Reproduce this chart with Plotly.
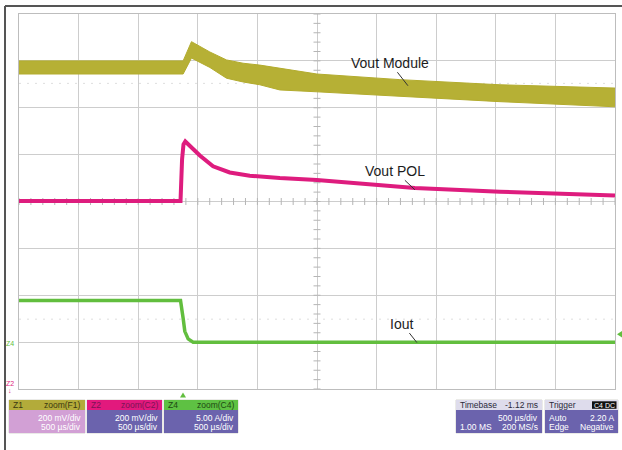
import numpy as np
import plotly.graph_objects as go

# Horizontal: time in ms (500 us/div, 10 divisions). Vertical: screen divisions (8 div, centre = 0)

# Vout Module (Z1, 200 mV/div) - ripple envelope
vmod_t = [0.000, 1.377, 1.447, 1.601, 1.741, 1.880, 2.020, 2.188, 2.499, 3.195, 4.035, 5.000]
vmod_hi = [3.00, 3.00, 3.41, 3.19, 3.02, 2.95, 2.91, 2.84, 2.72, 2.60, 2.49, 2.42]
vmod_lo = [2.72, 2.72, 3.06, 2.86, 2.63, 2.55, 2.49, 2.38, 2.34, 2.24, 2.13, 2.02]

# Vout POL (Z2, 200 mV/div)
pol_t = [0.000, 1.355, 1.368, 1.380, 1.395, 1.517, 1.628, 1.768, 1.936, 2.188, 2.499, 2.918, 3.321, 4.035, 5.000]
pol_v = [0.01, 0.01, 0.90, 1.22, 1.28, 0.98, 0.75, 0.62, 0.55, 0.50, 0.46, 0.37, 0.29, 0.21, 0.13]

# Iout (Z4, 5.00 A/div)
iout_t = [0.000, 1.355, 1.377, 1.391, 1.419, 1.461, 5.000]
iout_v = [-2.11, -2.11, -2.49, -2.77, -2.93, -3.00, -3.00]

OLIVE = "#b3ac2e"
MAGENTA = "#de1c7e"
GREEN = "#62be3e"
PURPLE = "#6b63ad"

W, H = 622, 450
ML, MR, MT, MB = 19, 7, 14, 61
PW, PH = W - ML - MR, H - MT - MB


def px(x):
    return (x - ML) / PW


def py(y):
    return (H - MB - y) / PH


fig = go.Figure()

# graticule dotted reference lines
for lvl in (2.52, -2.51):
    fig.add_trace(go.Scatter(x=[0, 5], y=[lvl, lvl], mode="lines",
                             line=dict(color="#dedede", width=1, dash="2px,6px"),
                             hoverinfo="skip", showlegend=False))

# centre-axis minor ticks
xt = np.arange(0, 5.001, 0.1)
fig.add_trace(go.Scatter(x=xt, y=np.zeros_like(xt), mode="markers",
                         marker=dict(symbol="line-ns", size=5, line=dict(color="#b5b5b5", width=1)),
                         hoverinfo="skip", showlegend=False))
yt = np.arange(-4, 4.001, 0.2)
fig.add_trace(go.Scatter(x=np.full_like(yt, 2.5), y=yt, mode="markers",
                         marker=dict(symbol="line-ew", size=5, line=dict(color="#b5b5b5", width=1)),
                         hoverinfo="skip", showlegend=False))

# Vout Module ripple band
fig.add_trace(go.Scatter(x=vmod_t, y=vmod_lo, mode="lines",
                         line=dict(color=OLIVE, width=1), showlegend=False))
fig.add_trace(go.Scatter(x=vmod_t, y=vmod_hi, mode="lines", fill="tonexty",
                         fillcolor=OLIVE,
                         fillpattern=dict(shape="|", fgcolor="#a39d20", bgcolor="#b9b338",
                                          size=2, solidity=0.3),
                         line=dict(color=OLIVE, width=1), showlegend=False))

# Vout POL
fig.add_trace(go.Scatter(x=pol_t, y=pol_v, mode="lines",
                         line=dict(color=MAGENTA, width=4), showlegend=False))

# Iout
fig.add_trace(go.Scatter(x=iout_t, y=iout_v, mode="lines",
                         line=dict(color=GREEN, width=3.5), showlegend=False))

shapes = []
annots = []

# trace labels with leader lines
lab_font = dict(family="Liberation Sans, Arial, sans-serif", size=14, color="#1c1c1c")
for text, x, y, ax, ay in [("Vout Module", 3.263, 2.47, -18, -23),
                           ("Vout POL", 3.321, 0.25, -20, -19),
                           ("Iout", 3.338, -3.01, -15, -19)]:
    annots.append(dict(x=x, y=y, xref="x", yref="y", text=text, showarrow=True,
                       ax=ax, ay=ay, arrowhead=0, arrowwidth=1, arrowcolor="#333333",
                       standoff=0, font=lab_font))

# outer frame (top and left edges)
shapes.append(dict(type="line", xref="paper", yref="paper", x0=px(5), x1=px(622),
                   y0=py(6), y1=py(6), line=dict(color="#555555", width=2)))
shapes.append(dict(type="line", xref="paper", yref="paper", x0=px(5), x1=px(5),
                   y0=py(6), y1=py(450), line=dict(color="#555555", width=2)))

small = "Liberation Sans, Arial, sans-serif"


def txt(x, y, s, color, size=8.5, anchor="left"):
    annots.append(dict(x=px(x), y=py(y), xref="paper", yref="paper", text=s,
                       showarrow=False, xanchor=anchor, yanchor="middle",
                       font=dict(family=small, size=size, color=color)))


def rect(x0, y0, x1, y1, fill, line=None):
    shapes.append(dict(type="rect", xref="paper", yref="paper",
                       x0=px(x0), x1=px(x1), y0=py(y1), y1=py(y0),
                       fillcolor=fill, line=dict(color=line or fill, width=1 if line else 0)))


def panel(x0, x1, head_col, body_col, hl, hr, htc, rows):
    rect(x0, 400, x1, 433, body_col, "#d6d6d0")
    rect(x0, 400, x1, 410, head_col)
    rect(x0, 410, x1, 433, body_col)
    txt(x0 + 2, 405.3, hl, htc)
    if hr:
        txt(x1 - 2, 405.3, hr, htc, anchor="right")
    for (l, r), yy in zip(rows, (418, 426.5)):
        if l:
            txt(x0 + 2, yy, l, "white")
        if r:
            txt(x1 - 2, yy, r, "white", anchor="right")


panel(9, 85, "#b3ab3a", "#d2a0d5", "Z1", "zoom(F1)", "#3b3810",
      [("", "200 mV/div"), ("", "500 µs/div")])
panel(87, 162, "#e2197d", PURPLE, "Z2", "zoom(C2)", "#7a1455",
      [("", "200 mV/div"), ("", "500 µs/div")])
panel(164, 238, "#5ec143", PURPLE, "Z4", "zoom(C4)", "#1d4a12",
      [("", "5.00 A/div"), ("", "500 µs/div")])
panel(456, 542, "#dedcec", PURPLE, "Timebase", "-1.12 ms", "#2a2a3a",
      [("", "500 µs/div"), ("1.00 MS", "200 MS/s")])
panel(545, 618, "#dedcec", PURPLE, "Trigger", "", "#2a2a3a",
      [("Auto", "2.20 A"), ("Edge", "Negative")])
rect(592, 401.3, 616.5, 408.8, "#111111")
txt(604.2, 405.2, "C4 DC", "white", size=7, anchor="center")

# channel markers at the screen edges
txt(10, 343.5, "Z4", GREEN, size=7, anchor="center")
txt(10, 383.5, "Z2", MAGENTA, size=7, anchor="center")
txt(10, 390, "↓", MAGENTA, size=7, anchor="center")

# trigger position / level markers
shapes.append(dict(type="path", xref="paper", yref="paper",
                   path=f"M {px(180)} {py(397.5)} L {px(186)} {py(397.5)} L {px(183)} {py(392.5)} Z",
                   fillcolor=GREEN, line=dict(width=0)))
shapes.append(dict(type="path", xref="paper", yref="paper",
                   path=f"M {px(617)} {py(334.3)} L {px(622)} {py(331)} L {px(622)} {py(337.6)} Z",
                   fillcolor=GREEN, line=dict(width=0)))

axis_common = dict(showgrid=True, gridcolor="#cdcdcd", gridwidth=1, zeroline=False,
                   showticklabels=False, ticks="", showline=True, linecolor="#bdbdbd",
                   linewidth=1, mirror=True, fixedrange=True)

fig.update_layout(
    width=W, height=H,
    margin=dict(l=ML, r=MR, t=MT, b=MB, pad=0),
    paper_bgcolor="white", plot_bgcolor="white",
    xaxis=dict(range=[0, 5], dtick=0.5, tick0=0, **axis_common),
    yaxis=dict(range=[-4, 4], dtick=1, tick0=0, **axis_common),
    shapes=shapes, annotations=annots, showlegend=False,
)

fig.write_html("out.html")
